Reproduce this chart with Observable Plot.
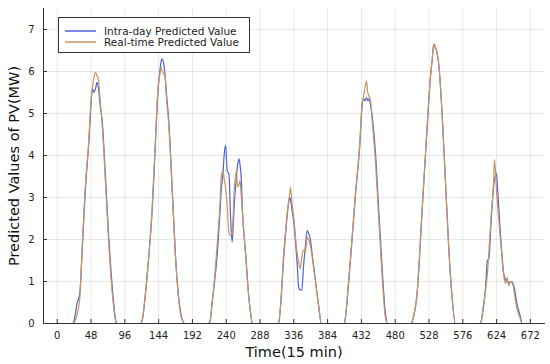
<!DOCTYPE html>
<html><head><meta charset="utf-8">
<script src="https://cdn.jsdelivr.net/npm/d3@7"></script>
<script src="https://cdn.jsdelivr.net/npm/@observablehq/plot@0.6"></script>
<style>
body{margin:0;background:#fff;font-family:"DejaVu Sans",sans-serif;}
#wrap{position:relative;width:550px;height:364px;}
#legend{position:absolute;left:58px;top:17px;width:190px;height:34px;border:1px solid #333;background:#fff;font-size:10.5px;color:#222;}
.row{position:absolute;left:6px;height:12px;display:flex;align-items:center;}
.row svg{margin-right:8px;}
</style></head><body><div id="wrap"></div>
<script>
// Time index (15-min steps) and predicted PV values (MW)
const time = [
  1, 22, 25, 28, 32, 35.5, 40, 45, 47.5, 50, 52, 54.5, 56.5, 58.5, 61, 64, 68.5, 73, 78, 82, 84,
  118, 121, 124, 128, 135, 139.5, 143, 146, 147.7, 149, 151, 153, 155, 158.5, 163.3, 168, 172, 176, 181,
  214, 217, 220, 222.5, 227, 231, 233, 235.5, 237, 239, 241.4, 244, 246, 248.4, 251.5, 254.5, 256, 258, 259.5, 261.5, 263, 267.4, 272, 275, 277,
  313, 315, 317, 321.8, 325.6, 328.9, 330.3, 331.3, 333.5, 336, 340.8, 343, 345, 347.5, 349.5, 352.5, 355, 357, 359.6, 362, 366.7, 371.5, 375,
  407, 409, 412, 416.4, 423.5, 429.7, 433, 435, 437, 439.2, 441, 443, 445, 447.2, 452, 456.6, 461.5, 466, 469,
  503, 505, 511, 518.2, 525.3, 530, 532.4, 534.7, 536.5, 541.8, 546.6, 551.3, 556, 560.8, 565.5,
  600, 602, 605, 608, 611, 613, 616.2, 619.9, 620.9, 622.5, 623.7, 625, 628.4, 631.8, 634, 636.5, 639, 641.5, 644, 647.4, 650.7, 653, 657.8, 660, 672
];
const intraday = [
  0, 0, 0.15, 0.47, 0.72, 1.75, 3.2, 4.35, 5.1, 5.6, 5.5, 5.6, 5.74, 5.6, 5.2, 4.8, 3.5, 2.1, 0.9, 0.2, 0,
  0, 0.1, 0.5, 1.2, 2.75, 4.3, 5.5, 6.05, 6.25, 6.3, 6.2, 5.95, 5.5, 4.8, 3.2, 1.6, 0.7, 0.2, 0,
  0, 0.05, 0.5, 0.85, 1.6, 2.6, 3.2, 3.6, 4.0, 4.24, 3.64, 3.55, 2.6, 1.94, 2.86, 3.5, 3.75, 3.92, 3.8, 3.4, 2.7, 1.7, 0.65, 0.2, 0,
  0, 0.05, 0.39, 1.6, 2.4, 2.9, 3.0, 2.95, 2.7, 2.4, 1.4, 0.85, 0.8, 0.8, 1.3, 1.85, 2.21, 2.15, 2.0, 1.66, 1.02, 0.39, 0,
  0, 0.1, 0.6, 1.5, 3.05, 4.25, 5.2, 5.35, 5.3, 5.38, 5.3, 5.35, 5.2, 4.95, 4.05, 2.7, 1.3, 0.25, 0,
  0, 0.1, 0.7, 2.69, 4.67, 5.85, 6.26, 6.65, 6.6, 6.18, 4.99, 3.4, 1.82, 0.63, 0,
  0, 0.05, 0.35, 0.8, 1.5, 1.55, 2.45, 3.3, 3.45, 3.5, 3.58, 3.3, 2.4, 1.6, 1.2, 1.05, 1.0, 0.95, 1.0, 0.95, 0.7, 0.47, 0.16, 0, 0
];
const realtime = [
  0, 0, 0.05, 0.2, 0.6, 1.85, 3.3, 4.4, 5.2, 5.65, 5.85, 5.98, 5.9, 5.8, 5.3, 4.7, 3.35, 1.95, 0.75, 0.15, 0,
  0, 0.1, 0.5, 1.2, 2.8, 4.4, 5.6, 5.95, 6.08, 6.02, 5.95, 5.9, 5.4, 4.7, 3.15, 1.55, 0.65, 0.15, 0,
  0, 0.05, 0.5, 0.9, 1.85, 2.8, 3.5, 3.64, 3.45, 3.25, 2.8, 2.15, 2.1, 2.15, 3.2, 3.64, 3.25, 3.3, 3.4, 3.0, 2.65, 1.66, 0.63, 0.2, 0,
  0, 0.05, 0.39, 1.7, 2.45, 2.95, 3.1, 3.25, 2.85, 2.5, 1.66, 1.45, 1.3, 1.6, 1.75, 1.7, 2.06, 2.0, 1.85, 1.6, 1.0, 0.38, 0,
  0, 0.1, 0.65, 1.55, 3.1, 4.3, 5.25, 5.4, 5.6, 5.77, 5.5, 5.4, 5.3, 4.85, 3.85, 2.5, 1.1, 0.15, 0,
  0, 0.1, 0.72, 2.7, 4.68, 5.87, 6.28, 6.66, 6.6, 6.18, 4.99, 3.4, 1.8, 0.6, 0,
  0, 0.05, 0.4, 0.75, 1.2, 1.7, 2.55, 3.45, 3.9, 3.6, 3.2, 2.9, 2.2, 1.55, 1.15, 0.95, 1.1, 0.9, 1.0, 0.9, 0.55, 0.35, 0.1, 0, 0
];
const seriesNames = ["Intra-day Predicted Value", "Real-time Predicted Value"];
const seriesColors = ["#4e63d6", "#c9955e"];
const xTicks = [0, 48, 96, 144, 192, 240, 288, 336, 384, 432, 480, 528, 576, 624, 672];
const yTicks = [0, 1, 2, 3, 4, 5, 6, 7];
const xLabel = "Time(15 min)";
const yLabel = "Predicted Values of PV(MW)";

const rows = [];
[intraday, realtime].forEach((vals, k) => {
  time.forEach((t, i) => rows.push({t, v: vals[i], s: seriesNames[k]}));
});

const chart = Plot.plot({
  width: 550, height: 364,
  marginLeft: 43, marginRight: 6, marginTop: 8, marginBottom: 41,
  style: {fontFamily: "DejaVu Sans", fontSize: "10px", color: "#222", background: "#fff"},
  x: {domain: [-19.5, 692], label: null},
  y: {domain: [0, 7.5], label: null},
  color: {domain: seriesNames, range: seriesColors},
  marks: [
    Plot.gridX(xTicks, {stroke: "#000", strokeOpacity: 0.09}),
    Plot.gridY(yTicks, {stroke: "#000", strokeOpacity: 0.09}),
    Plot.lineY(rows, {x: "t", y: "v", z: "s", stroke: "s", strokeWidth: 1.2, curve: "monotone-x"}),
    Plot.frame({anchor: "left", stroke: "#333"}),
    Plot.frame({anchor: "bottom", stroke: "#333"}),
    Plot.axisX(xTicks, {tickSize: -4, tickPadding: 12, label: null, stroke: "#333"}),
    Plot.axisY(yTicks, {tickSize: -4, tickPadding: 13, label: null, stroke: "#333"}),
    Plot.text([xLabel], {frameAnchor: "bottom", dy: 29, lineAnchor: "middle", textAnchor: "middle", fontSize: 14.5, fill: "#111"}),
    Plot.text([yLabel], {frameAnchor: "left", dx: -29, rotate: -90, lineAnchor: "middle", textAnchor: "middle", fontSize: 14.5, fill: "#111"})
  ]
});
const wrap = document.getElementById("wrap");
wrap.appendChild(chart);

const legend = document.createElement("div");
legend.id = "legend";
seriesNames.forEach((name, k) => {
  const row = document.createElement("div");
  row.className = "row";
  row.style.top = (k === 0 ? 7 : 18) + "px";
  row.innerHTML = `<svg width="31" height="4"><line x1="0" y1="2" x2="31" y2="2" stroke="${seriesColors[k]}" stroke-width="1.5"/></svg><span>${name}</span>`;
  legend.appendChild(row);
});
wrap.appendChild(legend);
</script>
</body></html>
